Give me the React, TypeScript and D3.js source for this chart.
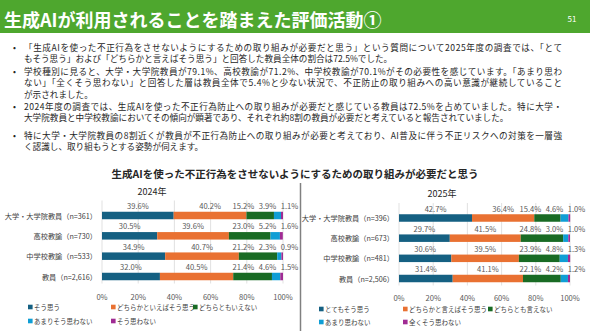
import React from "react";
import * as d3 from "d3";

const pageTitle = "生成AIが利用されることを踏まえた評価活動①";
const pageNumber = "51";

const bodyLines = [
  "「生成AIを使った不正行為をさせないようにするための取り組みが必要だと思う」という質問について2025年度の調査では、「とて",
  "もそう思う」および「どちらかと言えばそう思う」と回答した教員全体の割合は72.5%でした。",
  "学校種別に見ると、大学・大学院教員が79.1%、高校教諭が71.2%、中学校教諭が70.1%がその必要性を感じています。「あまり思わ",
  "ない」「全くそう思わない」と回答した層は教員全体で5.4%と少ない状況で、不正防止の取り組みへの高い意識が継続していること",
  "が示されました。",
  "2024年度の調査では、生成AIを使った不正行為防止への取り組みが必要だと感じている教員は72.5%を占めていました。特に大学・",
  "大学院教員と中学校教諭においてその傾向が顕著であり、それぞれ約8割の教員が必要だと考えていると報告されていました。",
  "特に大学・大学院教員の8割近くが教員が不正行為防止への取り組みが必要と考えており、AI普及に伴う不正リスクへの対策を一層強",
  "く認識し、取り組もうとする姿勢が伺えます。",
];
const bulletLines = [0, 2, 5, 7];
const justifiedLines = [0, 2, 3, 5, 7];

const chartTitle = "生成AIを使った不正行為をさせないようにするための取り組みが必要だと思う";

const year2024 = "2024年";
const categories2024 = ["大学・大学院教員（n=361）", "高校教諭（n=730）", "中学校教諭（n=533）", "教員（n=2,616）"];
const strong2024 = [39.6, 30.5, 34.9, 32.0];
const agree2024 = [40.2, 39.6, 40.7, 40.5];
const neutral2024 = [15.2, 23.0, 21.2, 21.4];
const disagree2024 = [3.9, 5.2, 2.3, 4.6];
const strongDis2024 = [1.1, 1.6, 0.9, 1.5];
const legend2024 = ["そう思う", "どちらかといえばそう思う", "どちらともいえない", "あまりそう思わない", "そう思わない"];

const year2025 = "2025年";
const categories2025 = ["大学・大学院教員（n=396）", "高校教諭（n=673）", "中学校教諭（n=481）", "教員（n=2,506）"];
const strong2025 = [42.7, 29.7, 30.6, 31.4];
const agree2025 = [36.4, 41.5, 39.5, 41.1];
const neutral2025 = [15.4, 24.8, 23.9, 22.1];
const disagree2025 = [4.6, 3.0, 4.8, 4.2];
const strongDis2025 = [1.0, 1.0, 1.3, 1.2];
const legend2025 = ["とてもそう思う", "どちらかと言えばそう思う", "どちらとも言えない", "あまり思わない", "全くそう思わない"];

const tickValues = [0, 20, 40, 60, 80, 100];
const colors = ["#156082", "#E97132", "#196B24", "#0F9ED5", "#A02B93"];

const FONT = "'Noto Sans CJK JP', 'Noto Sans', sans-serif";

type PanelProps = {
  year: string;
  categories: string[];
  series: number[][];
  legend: string[];
  x0: number;
  x1: number;
  yFirst: number;
  yLast: number;
  yearX: number;
  yearY: number;
  tickY: number;
  legendXs: number[];
  legendYs: number[];
};

function Panel(p: PanelProps) {
  const x = d3.scaleLinear().domain([0, 100]).range([p.x0, p.x1]);
  const y = d3.scalePoint<string>().domain(p.categories).range([p.yFirst, p.yLast]);
  const keys = p.series.map((_, i) => "s" + i);
  const rows = p.categories.map((c, ci) => {
    const r: any = { cat: c };
    p.series.forEach((s, si) => (r["s" + si] = s[ci]));
    return r;
  });
  const stacked = d3.stack<any>().keys(keys)(rows);
  const barH = 7.5;
  const labelFs = 7.6;
  const charW = labelFs * 0.56;
  const gap = 5;

  const labelPos = p.categories.map((c, ci) => {
    const items = stacked.map((layer, si) => {
      const d = layer[ci];
      const txt = p.series[si][ci].toFixed(1) + "%";
      const w = txt.length * charW;
      return { txt, w, cx: (x(d[0]) + x(d[1])) / 2 };
    });
    const n = items.length;
    const pos: number[] = new Array(n);
    pos[n - 1] = Math.max(items[n - 1].cx, p.x1 + items[n - 1].w / 2 - 2);
    for (let i = n - 2; i >= 0; i--) {
      const lim = pos[i + 1] - items[i + 1].w / 2 - gap - items[i].w / 2;
      pos[i] = Math.min(items[i].cx, lim);
    }
    return items.map((it, i) => ({ ...it, x: pos[i] }));
  });

  const gTop = p.yFirst - 15;
  const gBottom = p.yLast + 7;

  return (
    <g>
      <text x={p.yearX} y={p.yearY} fontSize={9} fill="#262626" textAnchor="middle" dominantBaseline="central" fontFamily={FONT}>
        {p.year}
      </text>
      {tickValues.map((t) => (
        <line key={"g" + t} x1={x(t)} x2={x(t)} y1={gTop} y2={gBottom} stroke="#d9d9d9" strokeWidth={0.8} />
      ))}
      {stacked.map((layer, si) =>
        layer.map((d, ci) => (
          <rect
            key={si + "-" + ci}
            x={x(d[0])}
            y={(y(p.categories[ci]) as number) - barH / 2}
            width={Math.max(0, x(d[1]) - x(d[0]))}
            height={barH}
            fill={colors[si]}
          />
        ))
      )}
      {labelPos.map((items, ci) =>
        items.map((it, si) => (
          <text
            key={"l" + ci + "-" + si}
            x={it.x}
            y={(y(p.categories[ci]) as number) - 10}
            fontSize={labelFs}
            fill="#595959"
            textAnchor="middle"
            dominantBaseline="central"
            fontFamily={FONT}
          >
            {it.txt}
          </text>
        ))
      )}
      {p.categories.map((c) => (
        <text
          key={c}
          x={p.x0 - 5}
          y={y(c) as number}
          fontSize={7.2}
          fill="#404040"
          textAnchor="end"
          dominantBaseline="central"
          fontFamily={FONT}
        >
          {c}
        </text>
      ))}
      {tickValues.map((t) => (
        <text
          key={"t" + t}
          x={x(t)}
          y={p.tickY}
          fontSize={7.6}
          fill="#595959"
          textAnchor="middle"
          dominantBaseline="central"
          fontFamily={FONT}
        >
          {t + "%"}
        </text>
      ))}
      {p.legend.map((l, i) => {
        const lx = p.legendXs[i % 3];
        const ly = p.legendYs[Math.floor(i / 3)];
        return (
          <g key={"lg" + i}>
            <rect x={lx} y={ly - 2.3} width={4.6} height={4.6} fill={colors[i]} />
            <text x={lx + 6} y={ly} fontSize={6.5} fill="#404040" dominantBaseline="central" fontFamily={FONT}>
              {l}
            </text>
          </g>
        );
      })}
    </g>
  );
}

export default function App() {
  const lineYs = [47, 58, 71, 82, 94, 106, 117, 135, 146];
  return (
    <svg
      width={590}
      height={331}
      viewBox="0 0 590 331"
      style={{ position: "fixed", left: 0, top: 0, background: "#ffffff" }}
    >
      <rect x={0} y={0} width={590} height={331} fill="#ffffff" />
      <rect x={0} y={0} width={590} height={33} fill="#4EA72E" />
      <text x={4} y={19} fontSize={18} fontWeight="bold" fill="#ffffff" dominantBaseline="central" fontFamily={FONT}>
        {pageTitle}
      </text>
      <text x={572} y={18} fontSize={8} fill="#ffffff" textAnchor="middle" dominantBaseline="central" fontFamily={FONT}>
        {pageNumber}
      </text>
      {bodyLines.map((t, i) => (
        <g key={"b" + i}>
          {bulletLines.includes(i) && (
            <text x={13} y={lineYs[i]} fontSize={8.6} fill="#262626" dominantBaseline="central" fontFamily={FONT}>
              •
            </text>
          )}
          <text
            x={24}
            y={lineYs[i]}
            fontSize={8.6}
            fill="#262626"
            dominantBaseline="central"
            fontFamily={FONT}
            {...(justifiedLines.includes(i) ? { textLength: 538, lengthAdjust: "spacing" } : {})}
          >
            {t}
          </text>
        </g>
      ))}
      <text x={295} y={173} fontSize={10.5} fontWeight="bold" fill="#262626" textAnchor="middle" dominantBaseline="central" fontFamily={FONT}>
        {chartTitle}
      </text>
      <line x1={300.5} x2={300.5} y1={183} y2={331} stroke="#808080" strokeWidth={1.5} />
      <Panel
        year={year2024}
        categories={categories2024}
        series={[strong2024, agree2024, neutral2024, disagree2024, strongDis2024]}
        legend={legend2024}
        x0={102}
        x1={283}
        yFirst={215.5}
        yLast={276.5}
        yearX={152}
        yearY={191}
        tickY={296}
        legendXs={[28, 111, 193]}
        legendYs={[307, 321]}
      />
      <Panel
        year={year2025}
        categories={categories2025}
        series={[strong2025, agree2025, neutral2025, disagree2025, strongDis2025]}
        legend={legend2025}
        x0={399}
        x1={570}
        yFirst={218}
        yLast={278.5}
        yearX={442}
        yearY={193}
        tickY={297}
        legendXs={[319, 403, 488]}
        legendYs={[309, 322]}
      />
    </svg>
  );
}
